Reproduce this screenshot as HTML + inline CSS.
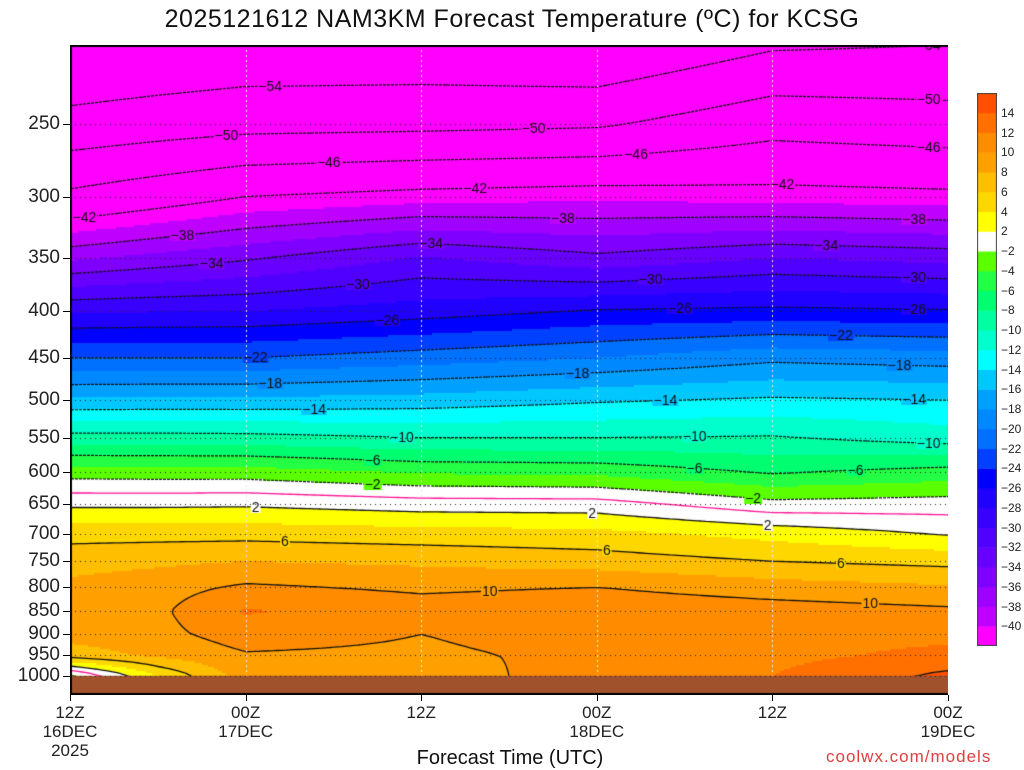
<!DOCTYPE html>
<html><head><meta charset="utf-8">
<style>
body{margin:0;background:#fff;width:1024px;height:768px;overflow:hidden;position:relative;font-family:"Liberation Sans",sans-serif}
.t{position:absolute;white-space:nowrap;color:#111}
.yl{position:absolute;right:964px;font-size:19px;line-height:19px;color:#222}
.xl{position:absolute;font-size:17px;line-height:19px;text-align:center;width:80px;color:#222}
.cb{position:absolute;left:1001px;font-size:12px;line-height:12px;color:#222}
</style></head><body>
<div class="t" style="left:0;width:1024px;text-align:center;top:5px;font-size:25px;letter-spacing:0.5px">2025121612 NAM3KM Forecast Temperature (ºC) for KCSG</div>
<canvas id="plot" width="878" height="650" style="position:absolute;left:70px;top:45px"></canvas>
<canvas id="cbar" width="20" height="553" style="position:absolute;left:977px;top:93px"></canvas>
<div id="ylabels"></div>
<div id="xlabels"></div>
<div id="cblabels"></div>
<div class="t" style="left:0;width:1020px;text-align:center;top:747px;font-size:20px">Forecast Time (UTC)</div>
<div class="t" style="left:826px;top:747px;font-size:17px;color:#e04040;letter-spacing:1px">coolwx.com/models</div>
<script>
const hours=[0,6,12,24,36,48,60];
const levels=[205,250,300,350,400,450,500,550,600,650,700,750,800,850,900,950,1000];
const temp00=[-58,-52.8,-45.2,-36.4,-28.3,-22,-15.7,-9.2,-2.9,1.6,5.3,7.2,8.5,8.8,8.8,7,-2.5];
const temp06=[-57.5,-52,-43.6,-35.3,-28.1,-22,-15.6,-9.2,-3,1.6,5.3,7.6,9.2,9.6,9.4,8.4,4];
const temp12=[-57,-51.3,-42,-34.3,-28,-22,-15.6,-9.3,-3,1.7,5.3,8,10.3,12.2,11,9.8,9];
const temp24=[-57,-51,-41,-31.8,-27,-21,-15.2,-10,-4.2,1,4.9,7.6,9.6,11,10,9.6,9];
const temp36=[-58,-50.5,-40.5,-33.5,-25.8,-20,-14.3,-10,-4.5,0.9,4.6,7,10,11.5,11,10.5,11];
const temp48=[-54.5,-47.5,-40.9,-32,-25.5,-18.5,-13.7,-9.8,-6.2,-1.3,3.3,6,8.9,11,11.5,11.5,12];
const temp60=[-54,-48.3,-41.3,-32.7,-25.8,-19,-14,-11,-5.1,-1,1.8,5.4,8.2,10.4,11.5,12.5,14.5];
const temps=[temp00,temp06,temp12,temp24,temp36,temp48,temp60];
const pTicks=[250,300,350,400,450,500,550,600,650,700,750,800,850,900,950,1000];
const timeTicks=[0,12,24,36,48,60];
const timeLabels=[["12Z","16DEC","2025"],["00Z","17DEC"],["12Z"],["00Z","18DEC"],["12Z"],["00Z","19DEC"]];
const bounds=[-40,-38,-36,-34,-32,-30,-28,-26,-24,-22,-20,-18,-16,-14,-12,-10,-8,-6,-4,-2,2,4,6,8,10,12,14];
const colors=['#ff00ff','#c000ff','#a000ff','#8000ff','#6800ff','#5000ff','#3800ff','#2000ff','#0000ff','#0040ff','#0070ff','#0088ff','#00a0ff','#00c8ff','#00ffff','#00ffcc','#00ffa0','#00ff70','#22ff44','#5aff00','#ffffff','#ffff00','#ffd700','#ffbe00','#ffa000','#ff8c00','#ff7000','#ff5000'];
const contourVals=[-54,-50,-46,-42,-38,-34,-30,-26,-22,-18,-14,-10,-6,-2,0,2,6,10,14];
const labelVals=[-54,-54,-50,-50,-50,-46,-46,-46,-42,-42,-42,-38,-38,-38,-34,-34,-34,-30,-30,-30,-26,-26,-26,-22,-22,-18,-18,-18,-14,-14,-14,-10,-10,-10,-6,-6,-6,-2,-2,2,2,2,6,6,6,10,10];
const labelHours=[13,58,10,31,58,17,38,58,0.3,27,48,7,33,57,9,24,51,19,39,57,21,41,57,12,52,13,34,56,16,40,57,22,42,58,20,42,53,20,46,12,35,47,14,36,52,28,54];

const X0=70,Y0=45,W=878,H=650;
function yOf(p){return 124+398*Math.log(p/250);}
function pOf(y){return 250*Math.exp((y-124)/398);}
function xOf(h){return X0+h*(948-70)/60;}
function hOf(x){return (x-X0)*60/(948-70);}
function tAt(h,p){
  let i=0;while(i<hours.length-2&&h>hours[i+1])i++;
  let ft=(h-hours[i])/(hours[i+1]-hours[i]);ft=Math.max(0,Math.min(1,ft));
  let lp=Math.log(Math.max(levels[0],Math.min(1000,p)));
  let j=0;while(j<levels.length-2&&lp>Math.log(levels[j+1]))j++;
  let fp=(lp-Math.log(levels[j]))/(Math.log(levels[j+1])-Math.log(levels[j]));
  const a=temps[i],b=temps[i+1];
  const va=a[j]+(a[j+1]-a[j])*fp, vb=b[j]+(b[j+1]-b[j])*fp;
  return va+(vb-va)*ft;
}
function colorOf(v){let k=0;while(k<bounds.length&&v>=bounds[k])k++;return colors[k];}
const yGround=yOf(1000);
const cv=document.getElementById('plot');const c=cv.getContext('2d');
const S=2;
for(let x=0;x<W;x+=S){const h=hOf(X0+x+S/2);
  for(let y=0;y<H;y+=S){const p=pOf(Y0+y+S/2);c.fillStyle=colorOf(tAt(h,p));c.fillRect(x,y,S,S);}}
const G=4,nx=Math.ceil(W/G)+1,ny=Math.ceil((yGround-Y0)/G)+1;
const grid=[];for(let i=0;i<nx;i++){grid.push([]);const h=hOf(X0+i*G);for(let j=0;j<ny;j++)grid[i].push(tAt(h,pOf(Y0+j*G)));}
contourVals.forEach(v=>{
  c.beginPath();
  for(let i=0;i<nx-1;i++)for(let j=0;j<ny-1;j++){
    const q=[[i,j],[i+1,j],[i+1,j+1],[i,j+1]];const pts=[];
    for(let e=0;e<4;e++){const A=q[e],B=q[(e+1)%4];const va=grid[A[0]][A[1]],vb=grid[B[0]][B[1]];
      if((va<v)!==(vb<v)){const f=(v-va)/(vb-va);pts.push([(A[0]+(B[0]-A[0])*f)*G,(A[1]+(B[1]-A[1])*f)*G]);}}
    for(let k=0;k+1<pts.length;k+=2){c.moveTo(pts[k][0],pts[k][1]);c.lineTo(pts[k+1][0],pts[k+1][1]);}
  }
  if(v===0){c.strokeStyle='#ff1493';c.setLineDash([]);c.lineWidth=1.3;}
  else if(v<0){c.strokeStyle='#111';c.setLineDash([3,1]);c.lineWidth=1.2;}
  else{c.strokeStyle='#111';c.setLineDash([]);c.lineWidth=1.3;}
  c.stroke();
});
c.setLineDash([]);
c.font='14px "Liberation Sans", sans-serif';c.textAlign='center';c.textBaseline='middle';
labelVals.forEach((v,k)=>{
  const x=xOf(labelHours[k])-X0+10;const h=hOf(X0+x);
  for(let y=1;y<yGround-Y0;y++){const t1=tAt(h,pOf(Y0+y-1)),t2=tAt(h,pOf(Y0+y));
    if((t1<v)!==(t2<v)){const s=(v<0?'\u2212':'')+Math.abs(v);const w=c.measureText(s).width;
      c.fillStyle=colorOf(tAt(h,pOf(Y0+y-4)));c.fillRect(x-w/2-1,y-5,w+2,10);
      c.fillStyle='#111';c.fillText(s,x,y);break;}}
});
c.fillStyle='#a0522d';c.fillRect(0,yGround-Y0,W,H);
c.strokeStyle='#222';c.lineWidth=1;c.setLineDash([1,4]);
pTicks.forEach(p=>{const y=Math.round(yOf(p)-Y0)+0.5;c.beginPath();c.moveTo(0,y);c.lineTo(W,y);c.stroke();});
c.strokeStyle='#e8e8e8';c.setLineDash([2,3]);
timeTicks.slice(1,5).forEach(h=>{const x=Math.round(xOf(h)-X0)+0.5;c.beginPath();c.moveTo(x,0);c.lineTo(x,yGround-Y0);c.stroke();});
c.setLineDash([]);c.strokeStyle='#000';c.lineWidth=2;
c.beginPath();c.moveTo(1,H);c.lineTo(1,1);c.lineTo(W,1);c.moveTo(0,H-1);c.lineTo(W,H-1);c.stroke();
const yl=document.getElementById('ylabels');
pTicks.forEach(p=>{const d=document.createElement('div');d.className='yl';


d.style.top=(yOf(p)-10)+'px';d.textContent=p;yl.appendChild(d);
const tk=document.createElement('div');


tk.style.cssText='position:absolute;left:63px;width:7px;height:1px;background:#000;top:'+Math.round(yOf(p))+'px';yl.appendChild(tk);});
const xl=document.getElementById('xlabels');
timeTicks.forEach((h,k)=>{const d=document.createElement('div');d.className='xl';


d.style.left=(xOf(h)-40)+'px';d.style.top='703px';d.innerHTML=timeLabels[k].join('<br>');xl.appendChild(d);
const tk=document.createElement('div');


tk.style.cssText='position:absolute;top:695px;width:1px;height:6px;background:#000;left:'+Math.round(xOf(h))+'px';xl.appendChild(tk);});
const cb=document.getElementById('cbar').getContext('2d');const n=colors.length,bh=553/n;
for(let k=0;k<n;k++){cb.fillStyle=colors[k];cb.fillRect(0,553-(k+1)*bh,20,bh+0.5);}
cb.strokeStyle='#444';cb.lineWidth=1;cb.strokeRect(0.5,0.5,19,552);
const cl=document.getElementById('cblabels');
bounds.forEach((b,k)=>{const d=document.createElement('div');d.className='cb';


d.style.top=(93+553-(k+1)*bh-6)+'px';d.textContent=(b<0?'\u2212':'')+Math.abs(b);cl.appendChild(d);});
</script>
</body></html>
